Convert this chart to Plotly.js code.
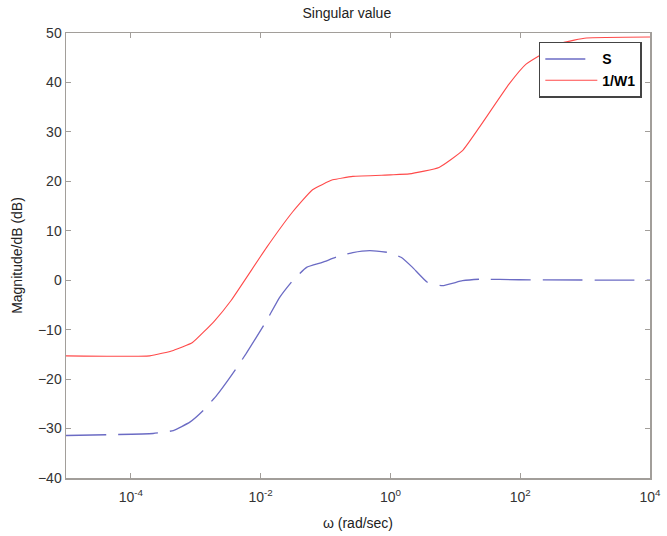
<!DOCTYPE html>
<html>
<head>
<meta charset="utf-8">
<script src="https://cdn.plot.ly/plotly-3.0.1.min.js"></script>
<style>
  html, body { margin: 0; padding: 0; background: #fff; }
  #chart { width: 667px; height: 536px; }
</style>
</head>
<body>
<div id="chart"></div>
<script>
// Frequency grid (rad/sec) and singular values (dB)
const wS = [1e-5, 2.2e-4, 4.5e-4, 8.1e-4, 1.29e-3, 2.1e-3, 3.7e-3, 6.0e-3, 0.0123, 0.0195, 0.031, 0.051, 0.089, 0.148, 0.263, 0.48, 0.93, 1.48, 2.19, 3.7, 6.3, 12.9, 23.4, 95, 1e4];
const magS = [-31.4, -31.0, -30.4, -28.7, -26.4, -23.3, -18.9, -14.8, -8.2, -3.5, -0.1, 2.6, 3.6, 4.7, 5.6, 6.0, 5.6, 4.6, 2.6, -0.4, -1.1, -0.1, 0.2, 0.1, 0.0];

const wW = [1e-5, 1.95e-4, 4.5e-4, 8.9e-4, 1.95e-3, 3.5e-3, 0.0123, 0.031, 0.063, 0.129, 0.263, 1.0, 1.95, 5.6, 12.9, 23.4, 67.6, 123, 447, 1047, 1e4];
const magW = [-15.3, -15.3, -14.2, -12.6, -8.2, -4.1, 6.6, 13.8, 18.3, 20.3, 21.0, 21.3, 21.5, 22.8, 26.2, 30.9, 39.7, 43.7, 48.0, 49.0, 49.2];

const xTickVals = [1e-4, 1e-2, 1, 1e2, 1e4];
const xTickText = ['10<sup>-4</sup>', '10<sup>-2</sup>', '10<sup>0</sup>', '10<sup>2</sup>', '10<sup>4</sup>'];
const yTickVals = [-40, -30, -20, -10, 0, 10, 20, 30, 40, 50];

const axisColor = '#a29e9a';
const font = 'Liberation Sans, Arial, sans-serif';

const traces = [
  {
    x: wS, y: magS, name: 'S', mode: 'lines',
    line: { color: '#6b6bc4', width: 1.3, dash: '40px,12px', shape: 'spline', smoothing: 0.4 }
  },
  {
    x: wW, y: magW, name: '1/W1', mode: 'lines',
    line: { color: '#ff4a4a', width: 1.1, shape: 'spline', smoothing: 0.4 }
  }
];

const layout = {
  width: 667, height: 536,
  margin: { l: 66, r: 17, t: 33, b: 58 },
  paper_bgcolor: '#fff', plot_bgcolor: '#fff',
  font: { family: font, size: 13, color: '#333' },
  title: {
    text: 'Singular value',
    font: { family: font, size: 14, color: '#222' },
    x: 0.52, xanchor: 'center', y: 0.975, yanchor: 'middle'
  },
  showlegend: true,
  legend: {
    x: 0.986, y: 0.98, xanchor: 'right', yanchor: 'top',
    bgcolor: '#fff', bordercolor: '#444', borderwidth: 1.5,
    font: { family: font, size: 14, color: '#000', weight: 'bold' },
    itemwidth: 52, tracegroupgap: 0
  },
  xaxis: {
    type: 'log', range: [-5, 4],
    tickvals: xTickVals, ticktext: xTickText,
    ticks: 'inside', ticklen: 5, tickcolor: axisColor,
    showline: true, linecolor: axisColor, linewidth: 1.5, mirror: 'ticks',
    showgrid: false, zeroline: false,
    ticklabelstandoff: 6,
    tickfont: { family: font, size: 14, color: '#333' },
    title: { text: 'ω (rad/sec)', font: { family: font, size: 14, color: '#222' }, standoff: 14 }
  },
  yaxis: {
    range: [-40, 50],
    tickvals: yTickVals,
    ticks: 'inside', ticklen: 5, tickcolor: axisColor,
    showline: true, linecolor: axisColor, linewidth: 1.5, mirror: 'ticks',
    showgrid: false, zeroline: false,
    tickfont: { family: font, size: 14, color: '#333' },
    title: { text: 'Magnitude/dB (dB)', font: { family: font, size: 14, color: '#222' }, standoff: 12 }
  }
};

Plotly.newPlot('chart', traces, layout, { displayModeBar: false, staticPlot: true });
</script>
</body>
</html>
